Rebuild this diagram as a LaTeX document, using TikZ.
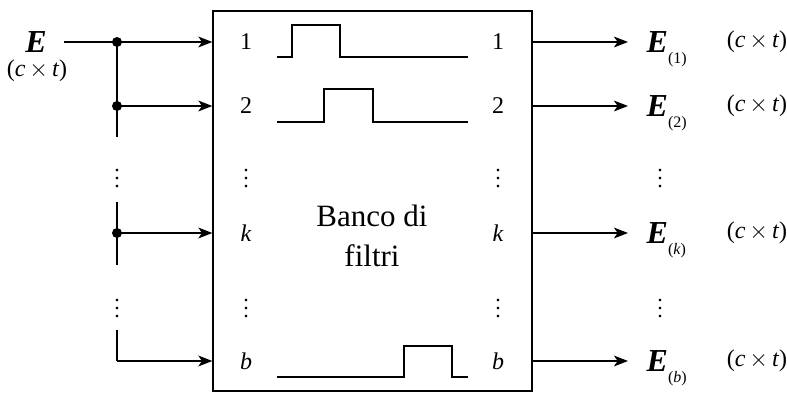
\documentclass[tikz,border=0pt]{standalone}
\usepackage{fontspec}
\setmainfont{Liberation Serif}
\usetikzlibrary{arrows.meta}

\newcommand{\vE}{\textbf{\textit{E}}}
\newcommand{\cxt}{(\textit{c}\,$\times$\,\textit{t})}
\newcommand{\vEsub}[1]{\vE\raisebox{-5.5pt}{\fontsize{8}{9}\selectfont(#1)}}

\begin{document}
\begin{tikzpicture}[x=0.5pt, y=-0.5pt, line width=0.65pt, >={Stealth[length=7pt,width=5.4pt,inset=1.8pt]},
  lab/.style={font=\fontsize{12}{14}\selectfont},
  dots/.style={inner sep=0pt, font=\fontsize{11}{13}\selectfont},
  outlab/.style={anchor=base west, inner sep=0pt, font=\fontsize{16}{18}\selectfont},
  junct/.style={circle, fill, inner sep=0pt, minimum size=5pt}]
\useasboundingbox (0,0) rectangle (787,394);

% filter bank
\node[draw, minimum width=159.5pt, minimum height=190pt, inner sep=0pt] (bank) at (372.5,201) {};
\node[align=center, font=\fontsize{15.5}{20}\selectfont] (txt) at (372,236) {Banco di\\filtri};

% pass bands
\foreach \b/\t/\u/\v in {57/25/292/340, 122/89/324/373, 377/346/404/452}
\draw (277,\b) -| (\u,\t) -| (\v,\b) -- (468,\b);

% input
\node[font=\fontsize{16}{18}\selectfont] (E) at (36,42) {\vE};
\node[lab] (Ect) at (37,71) {\cxt};

\foreach \n/\l/\y in {1/1/42, 2/2/106, k/\textit{k}/233, b/\textit{b}/361}{
\node[lab] (in\n) at (246,\y) {\l};
\node[lab] (out\n) at (498,\y) {\l};
\coordinate (j\n) at (117,\y);
}
\foreach \n/\y in {a/173, b/303}{
\node[dots] (din\n) at (246,\y) {$\vdots$};
\node[dots] (dout\n) at (498,\y) {$\vdots$};
\node[dots] (dbus\n) at (117,\y) {$\vdots$};
\node[dots] (dres\n) at (660,\y) {$\vdots$};
}

\coordinate (bus1) at (117,137);
\coordinate (bus2a) at (117,202);
\coordinate (bus2b) at (117,265);
\coordinate (bus3) at (117,330);

\draw[shorten <=5pt] (E.east) -- (j1);
\draw (j1) -- (bus1);
\draw (bus2a) -- (bus2b);
\draw (bus3) -- (jb);
\foreach \n in {1,2,k,b}
\draw[->] (j\n) -- (j\n -| bank.west);
\foreach \n in {1,2,k}
\node[junct] at (j\n) {};

% outputs
\foreach \n/\s/\y in {1/1/53, 2/2/117, k/\textit{k}/244, b/\textit{b}/372}{
\node[outlab] (res\n) at (646,\y) {\vEsub{\s}};
\node[lab] (rct\n) at (757,\y-11) {\cxt};
\draw[->, shorten >=9pt] (out\n -| bank.east) -- (out\n -| res\n.west);
}
\end{tikzpicture}
\end{document}
